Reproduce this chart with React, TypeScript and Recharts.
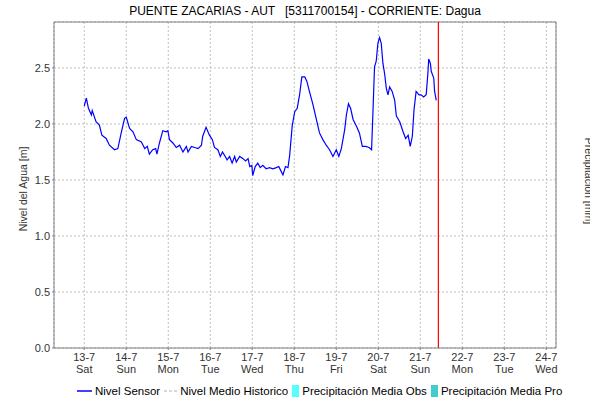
import {
  ComposedChart,
  Line,
  XAxis,
  YAxis,
  CartesianGrid,
  ReferenceLine,
  Legend,
} from 'recharts';

// days since 13-7 00:00
const days = [
  0.0, 0.05, 0.1, 0.17, 0.19, 0.28, 0.36, 0.42, 0.52, 0.6, 0.72, 0.8, 0.88, 0.96, 1.0, 1.08, 1.16,
  1.24, 1.36, 1.44, 1.5, 1.55, 1.63, 1.7, 1.73, 1.79, 1.87, 1.95, 1.99, 2.03, 2.11, 2.19, 2.27,
  2.35, 2.43, 2.47, 2.55, 2.63, 2.71, 2.79, 2.82, 2.9, 2.98, 3.05, 3.1, 3.18, 3.24, 3.29, 3.34,
  3.4, 3.46, 3.52, 3.58, 3.62, 3.7, 3.78, 3.84, 3.9, 3.94, 3.99, 4.01, 4.07, 4.13, 4.19, 4.25,
  4.33, 4.41, 4.49, 4.57, 4.63, 4.67, 4.73, 4.79, 4.85, 4.89, 4.95, 5.01, 5.07, 5.13, 5.18, 5.25,
  5.3, 5.36, 5.44, 5.52, 5.6, 5.68, 5.76, 5.84, 5.92, 6.0, 6.06, 6.12, 6.2, 6.24, 6.29, 6.34, 6.4,
  6.48, 6.55, 6.62, 6.7, 6.78, 6.84, 6.87, 6.91, 6.95, 6.99, 7.03, 7.07, 7.11, 7.15, 7.19, 7.23,
  7.27, 7.33, 7.39, 7.43, 7.51, 7.59, 7.65, 7.71, 7.76, 7.81, 7.85, 7.9, 7.97, 8.02, 8.08, 8.14,
  8.18, 8.2, 8.24, 8.26, 8.32, 8.34, 8.38,
];

const nivelSensor = [
  2.16, 2.23, 2.14, 2.08, 2.12, 2.02, 1.99, 1.9, 1.87, 1.81, 1.77, 1.78, 1.92, 2.05, 2.06, 1.96,
  1.93, 1.86, 1.84, 1.78, 1.8, 1.73, 1.77, 1.78, 1.73, 1.83, 1.94, 1.93, 1.94, 1.86, 1.83, 1.79,
  1.81, 1.75, 1.8, 1.75, 1.8, 1.79, 1.78, 1.81, 1.89, 1.97, 1.9, 1.86, 1.79, 1.77, 1.71, 1.75,
  1.72, 1.68, 1.71, 1.65, 1.71, 1.66, 1.71, 1.69, 1.67, 1.69, 1.62, 1.63, 1.54, 1.62, 1.65, 1.61,
  1.63, 1.6, 1.61, 1.6, 1.61, 1.62, 1.59, 1.545, 1.62, 1.61, 1.72, 1.98, 2.11, 2.14, 2.27, 2.42,
  2.42, 2.38, 2.29, 2.18, 2.05, 1.92, 1.86, 1.81, 1.77, 1.71, 1.77, 1.71, 1.78, 1.95, 2.08, 2.18,
  2.14, 2.04, 1.98, 1.92, 1.8, 1.8, 1.79, 1.77, 2.08, 2.51, 2.56, 2.72, 2.77, 2.72, 2.54, 2.45,
  2.32, 2.26, 2.33, 2.29, 2.21, 2.07, 2.02, 1.93, 1.87, 1.9, 1.8, 1.89, 2.125, 2.29, 2.26, 2.26,
  2.24, 2.26, 2.45, 2.58, 2.54, 2.47, 2.41, 2.29, 2.21,
];

const dateLabels = ['13-7', '14-7', '15-7', '16-7', '17-7', '18-7', '19-7', '20-7', '21-7', '22-7', '23-7', '24-7'];
const weekdayLabels = ['Sat', 'Sun', 'Mon', 'Tue', 'Wed', 'Thu', 'Fri', 'Sat', 'Sun', 'Mon', 'Tue', 'Wed'];
const nivelTicks = [0, 0.5, 1, 1.5, 2, 2.5];
const precipTicks = [0, 10, 20, 30, 40, 50, 60, 70, 80, 90, 100];
const nowMarker = 8.43;

const data = days.map((t, i) => ({ t, nivel: nivelSensor[i] }));
const dayTicks = dateLabels.map((_, i) => i);

const FONT = '"Liberation Sans", Arial, sans-serif';

function DayTick(props: any) {
  const { x, y, payload } = props;
  const i = payload.value;
  return (
    <text x={x} y={y} textAnchor="middle" fontSize={11} fontFamily={FONT} fill="#333">
      <tspan x={x} dy={9}>{dateLabels[i]}</tspan>
      <tspan x={x} dy={12}>{weekdayLabels[i]}</tspan>
    </text>
  );
}

function LegendBox() {
  const item = { display: 'flex', alignItems: 'center', marginRight: 4, flexShrink: 0 } as const;
  return (
    <div
      style={{
        display: 'flex',
        paddingLeft: 77,
        fontSize: 11.5,
        fontFamily: FONT,
        color: '#000',
        whiteSpace: 'nowrap',
        width: 590,
        boxSizing: 'border-box',
      }}
    >
      <div style={item}>
        <svg width={15} height={12}><line x1={0} y1={6} x2={15} y2={6} stroke="#0000ff" strokeWidth={1.5} /></svg>
        <span style={{ marginLeft: 3 }}>Nivel Sensor</span>
      </div>
      <div style={item}>
        <svg width={13} height={12}><line x1={0} y1={6} x2={13} y2={6} stroke="#cccccc" strokeWidth={1.5} strokeDasharray="3 2" /></svg>
        <span style={{ marginLeft: 3 }}>Nivel Medio Historico</span>
      </div>
      <div style={item}>
        <svg width={7} height={12}><rect x={0} y={0} width={7} height={12} fill="#55ffff" /></svg>
        <span style={{ marginLeft: 3 }}>Precipitación Media Obs</span>
      </div>
      <div style={item}>
        <svg width={7} height={12}><rect x={0} y={0} width={7} height={12} fill="#44cccc" /></svg>
        <span style={{ marginLeft: 3 }}>Precipitación Media Pro</span>
      </div>
    </div>
  );
}

export default function App() {
  return (
    <div style={{ position: 'relative', width: 590, height: 402, background: '#fff' }}>
      <style>{'body{margin:0}'}</style>
      <div
        style={{
          position: 'absolute',
          top: 4,
          left: 0,
          width: 610,
          textAlign: 'center',
          fontSize: 12,
          fontFamily: FONT,
          whiteSpace: 'pre',
          color: '#000',
        }}
      >
        {'PUENTE ZACARIAS - AUT   [5311700154] - CORRIENTE: Dagua'}
      </div>
      <ComposedChart
        width={590}
        height={402}
        data={data}
        margin={{ top: 22, right: 10, bottom: 2, left: 10 }}
      >
        <CartesianGrid yAxisId="left" stroke="#c0c0c0" strokeDasharray="2 2" />
        <XAxis
          dataKey="t"
          type="number"
          domain={[-0.72, 11.23]}
          ticks={dayTicks}
          tick={<DayTick />}
          tickSize={2}
          height={32}
          stroke="#808080"
          interval={0}
          allowDataOverflow
        />
        <YAxis
          yAxisId="left"
          domain={[0, 2.91]}
          ticks={nivelTicks}
          tickFormatter={(v: number) => v.toFixed(1)}
          tick={{ fontSize: 11, fontFamily: FONT, fill: '#333' }}
          tickSize={2}
          width={44}
          stroke="#808080"
          allowDataOverflow
          label={{
            content: () => {
              const cx = 27;
              const cy = 189;
              return (
                <text x={cx} y={cy} transform={`rotate(-90 ${cx} ${cy})`} textAnchor="middle" fontSize={10.5} fontFamily={FONT} fill="#333">
                  Nivel del Agua [m]
                </text>
              );
            },
          }}
        />
        <YAxis
          yAxisId="right"
          orientation="right"
          domain={[0, 100]}
          ticks={precipTicks}
          tick={{ fontSize: 11, fontFamily: FONT, fill: '#333' }}
          tickSize={4}
          width={24}
          stroke="#808080"
          label={{
            content: () => {
              const cx = 585;
              const cy = 181;
              return (
                <text x={cx} y={cy} transform={`rotate(90 ${cx} ${cy})`} textAnchor="middle" fontSize={10.5} fontFamily={FONT} fill="#333">
                  Precipitación [mm]
                </text>
              );
            },
          }}
        />
        <ReferenceLine yAxisId="left" y={2.91} stroke="#808080" />
        <ReferenceLine yAxisId="left" x={nowMarker} stroke="#ff0000" strokeWidth={1.2} />
        <Line
          yAxisId="left"
          type="linear"
          dataKey="nivel"
          stroke="#0000ff"
          strokeWidth={1.2}
          dot={false}
          isAnimationActive={false}
        />
        <Legend
          verticalAlign="bottom"
          height={20}
          wrapperStyle={{ left: 0, width: 590, top: 385 }}
          content={() => <LegendBox />}
        />
      </ComposedChart>
    </div>
  );
}
